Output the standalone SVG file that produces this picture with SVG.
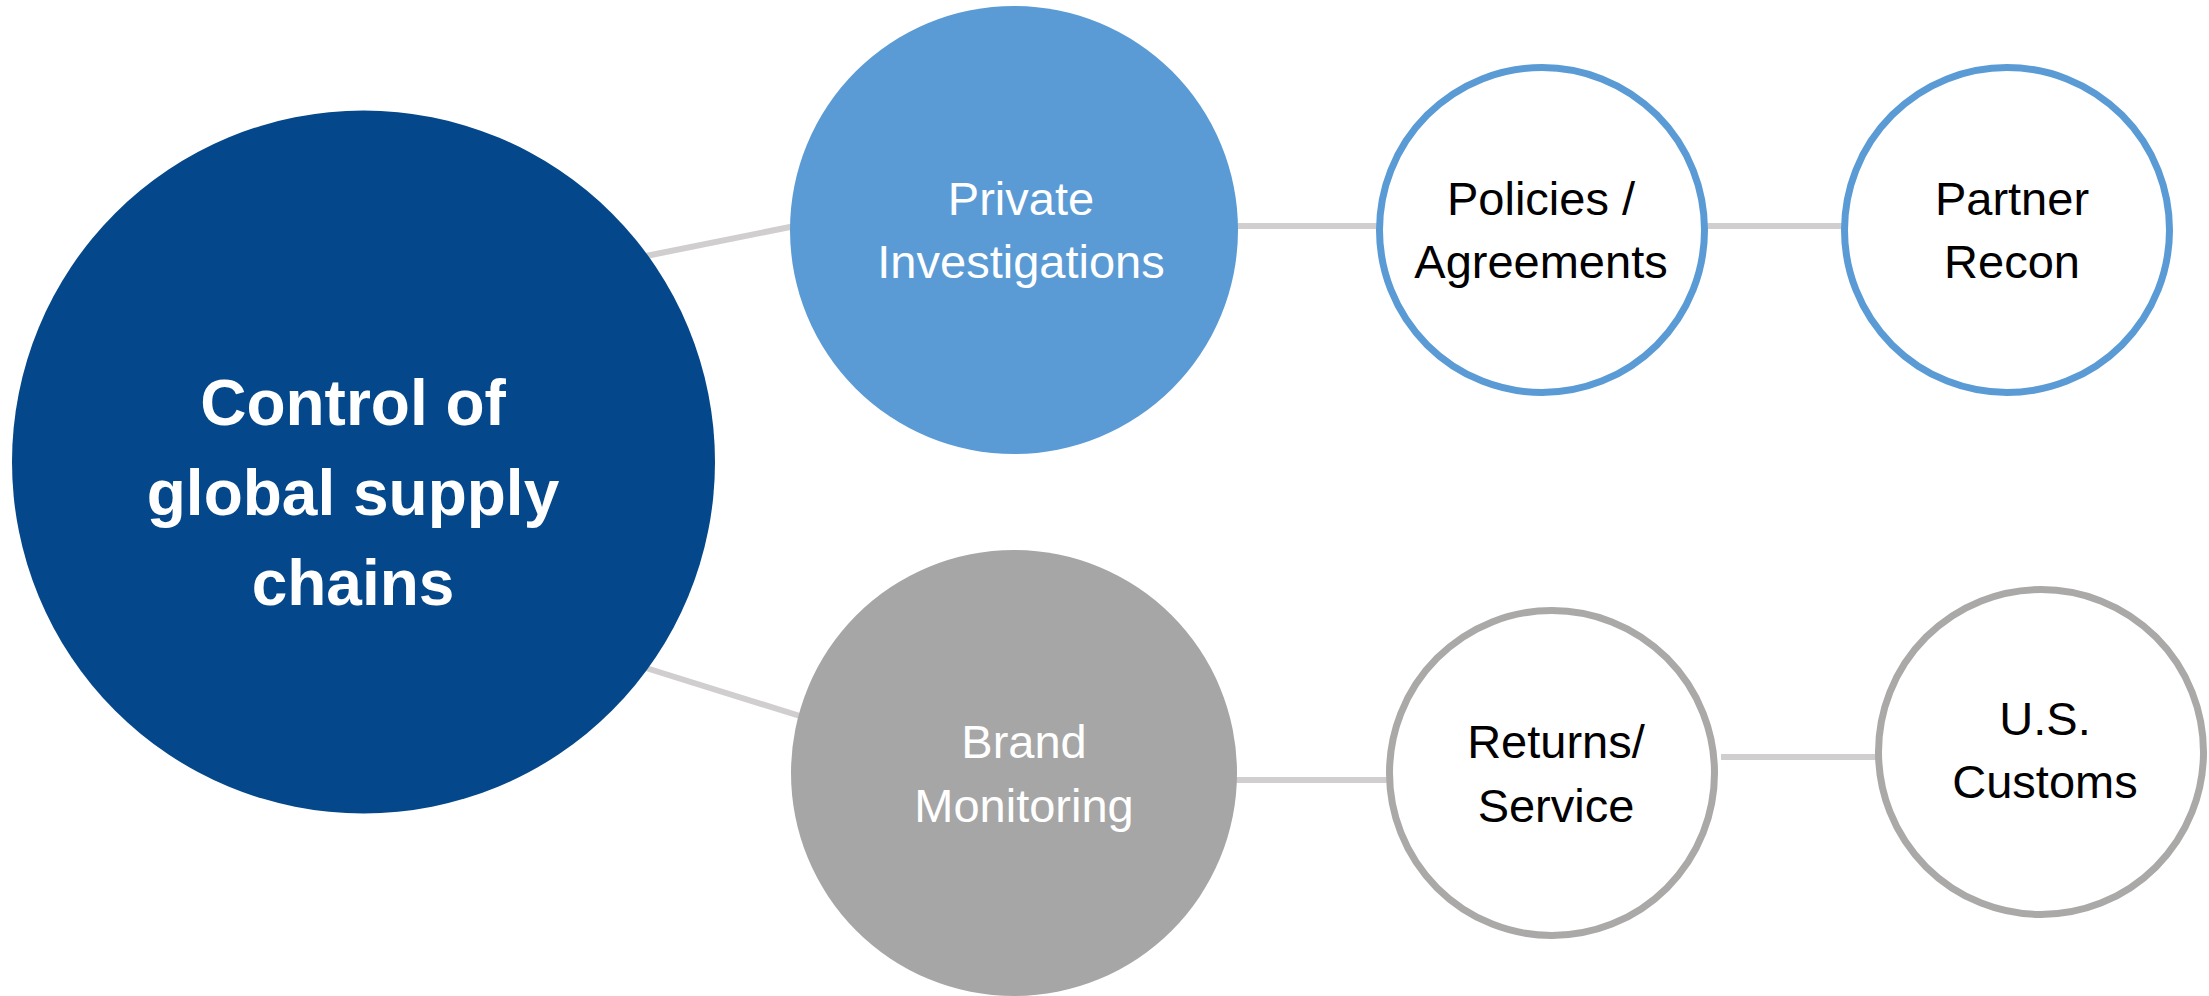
<svg xmlns="http://www.w3.org/2000/svg" width="2209" height="996" viewBox="0 0 2209 996">
<style>
.conn{stroke:#D0CECE;stroke-width:6;fill:none}
.lbl{font-family:"Liberation Sans",Arial,sans-serif;text-anchor:middle}
.big{font-size:64px;font-weight:bold;fill:#FFFFFF}
.mid{font-size:47px;fill:#FFFFFF}
.sm{font-size:47px;fill:#000000}
.blueRing{fill:#FFFFFF;stroke:#5B9BD5;stroke-width:7}
.grayRing{fill:#FFFFFF;stroke:#ABA8A8;stroke-width:7}
</style>
<rect width="2209" height="996" fill="#FFFFFF"/>
<g id="connectors">
<line class="conn" x1="646" y1="256" x2="795" y2="226"/>
<line class="conn" x1="646" y1="668" x2="800" y2="716"/>
<line class="conn" x1="1234" y1="226" x2="1382" y2="226"/>
<line class="conn" x1="1700" y1="226" x2="1848" y2="226"/>
<line class="conn" x1="1234" y1="780" x2="1390" y2="780"/>
<line class="conn" x1="1721" y1="757" x2="1878" y2="757"/>
</g>
<g id="node-control">
<circle cx="363.5" cy="462" r="351.5" fill="#04478A"/>
<text class="lbl big" x="353" y="425">Control of</text>
<text class="lbl big" x="353" y="515">global supply</text>
<text class="lbl big" x="353" y="605">chains</text>
</g>
<g id="node-private">
<circle cx="1014" cy="230" r="224" fill="#5B9BD5"/>
<text class="lbl mid" x="1021" y="215">Private</text>
<text class="lbl mid" x="1021" y="278">Investigations</text>
</g>
<g id="node-brand">
<circle cx="1014" cy="773" r="223" fill="#A6A6A6"/>
<text class="lbl mid" x="1024" y="758">Brand</text>
<text class="lbl mid" x="1024" y="822">Monitoring</text>
</g>
<g id="node-policies">
<circle class="blueRing" cx="1542" cy="230" r="162.5"/>
<text class="lbl sm" x="1541" y="215">Policies /</text>
<text class="lbl sm" x="1541" y="278">Agreements</text>
</g>
<g id="node-partner">
<circle class="blueRing" cx="2007" cy="230" r="162.5"/>
<text class="lbl sm" x="2012" y="215">Partner</text>
<text class="lbl sm" x="2012" y="278">Recon</text>
</g>
<g id="node-returns">
<circle class="grayRing" cx="1552" cy="773" r="162.5"/>
<text class="lbl sm" x="1556" y="758">Returns/</text>
<text class="lbl sm" x="1556" y="822">Service</text>
</g>
<g id="node-customs">
<circle class="grayRing" cx="2041" cy="752" r="162.5"/>
<text class="lbl sm" x="2045" y="735">U.S.</text>
<text class="lbl sm" x="2045" y="798">Customs</text>
</g>
</svg>
